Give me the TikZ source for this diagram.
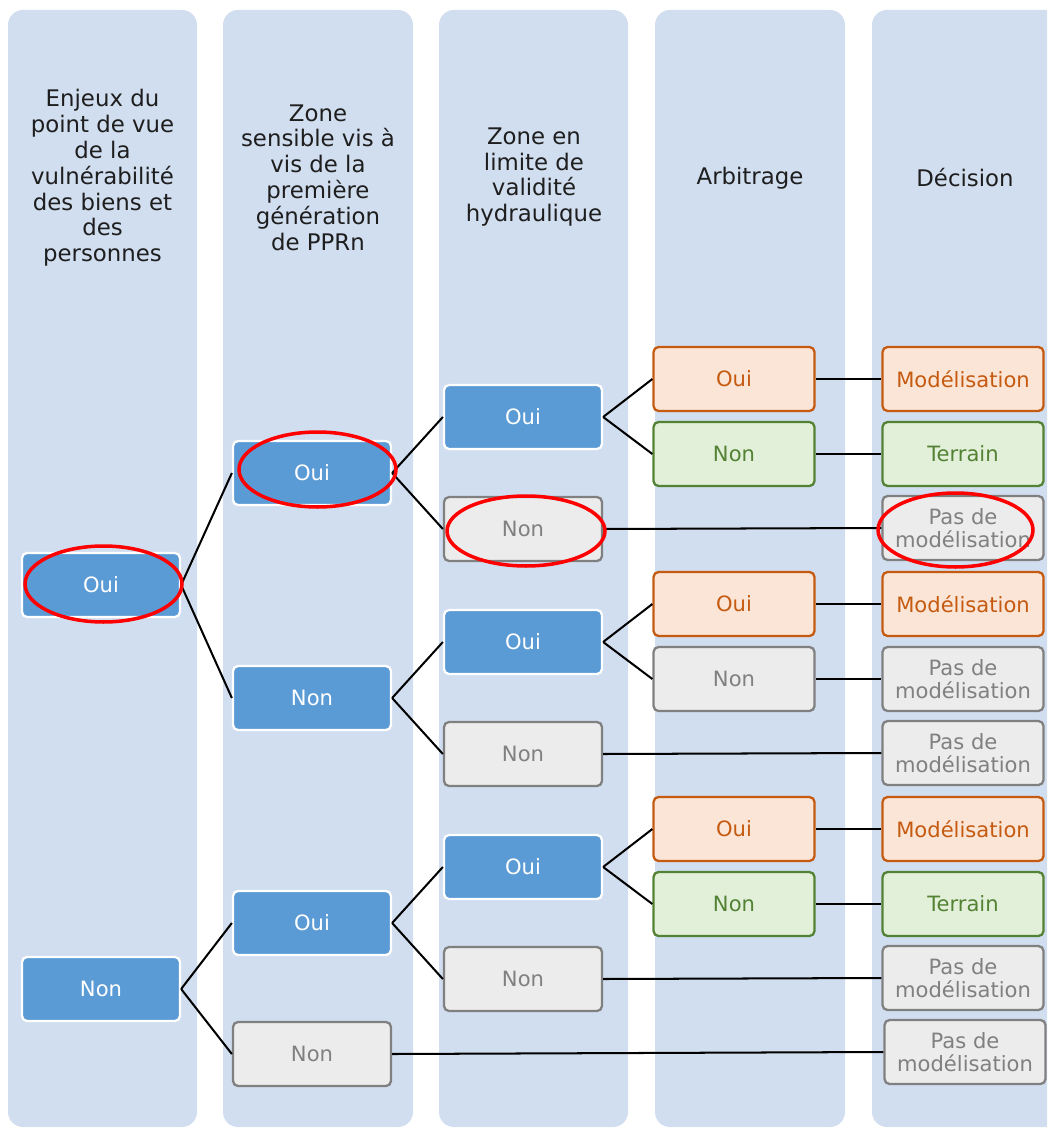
\documentclass[tikz,border=0pt]{standalone}
\usepackage{fontspec}
\setmainfont{DejaVu Sans}
\usetikzlibrary{shapes.geometric}
\definecolor{colbg}{RGB}{209,222,239}
\definecolor{bluefill}{RGB}{91,155,213}
\definecolor{grayfill}{RGB}{236,236,236}
\definecolor{grayline}{RGB}{128,128,128}
\definecolor{graytext}{RGB}{128,128,128}
\definecolor{orfill}{RGB}{251,229,214}
\definecolor{orline}{RGB}{197,90,17}
\definecolor{grfill}{RGB}{226,240,217}
\definecolor{grline}{RGB}{84,130,53}
\definecolor{hdrtext}{RGB}{30,30,30}
\tikzset{
  colbox/.style={fill=colbg, rounded corners=0.3cm},
  hdr/.style={align=center, text=hdrtext, font=\fontsize{13}{14.7}\selectfont, inner sep=0pt},
  box/.style={rectangle, rounded corners=0.1cm, minimum width=3.16cm, minimum height=1.28cm,
    inner sep=0pt, align=center, line width=1.3pt, font=\fontsize{12}{13}\selectfont},
  wbox/.style={box, minimum width=3.22cm},
  bbox/.style={box, fill=bluefill, draw=white, text=white},
  ybox/.style={box, fill=grayfill, draw=grayline, text=graytext},
  obox/.style={wbox, fill=orfill, draw=orline, text=orline},
  gbox/.style={wbox, fill=grfill, draw=grline, text=grline},
  link/.style={draw=black, line width=1.15pt},
  ring/.style={ellipse, draw=red, line width=2pt, inner sep=0pt}
}
\begin{document}
\begin{tikzpicture}[x=0.02cm,y=-0.02cm]
\useasboundingbox (0,0) rectangle (1047,1128);
\clip (0,0) rectangle (1047,1128);
% columns
\fill[colbox] (8,10) rectangle (197,1127);
\fill[colbox] (223,10) rectangle (413,1127);
\fill[colbox] (439,10) rectangle (628,1127);
\fill[colbox] (655,10) rectangle (845,1127);
\fill[colbox] (872,10) rectangle (1075,1127);
% headers
\node[hdr] (h1) at (102.5,178) {Enjeux du\\point de vue\\de la\\vulnérabilité\\des biens et\\des\\personnes};
\node[hdr] (h2) at (318,177.5) {Zone\\sensible vis à\\vis de la\\première\\génération\\de PPRn};
\node[hdr] (h3) at (534,177) {Zone en\\limite de\\validité\\hydraulique};
\node[hdr] (h4) at (750,178) {Arbitrage};
\node[hdr] (h5) at (965,178) {Décision};
% column 1
\node[bbox] (a1) at (101,585) {Oui};
\node[bbox] (a2) at (101,989) {Non};
% column 2
\node[bbox] (b1) at (312,473) {Oui};
\node[bbox] (b2) at (312,698) {Non};
\node[bbox] (b3) at (312,923) {Oui};
\node[ybox] (b4) at (312,1054) {Non};
% column 3
\node[bbox] (c1) at (523,417) {Oui};
\node[ybox] (c2) at (523,529) {Non};
\node[bbox] (c3) at (523,642) {Oui};
\node[ybox] (c4) at (523,754) {Non};
\node[bbox] (c5) at (523,867) {Oui};
\node[ybox] (c6) at (523,979) {Non};
% column 4
\node[obox] (d1) at (734,379) {Oui};
\node[gbox] (d2) at (734,454) {Non};
\node[obox] (d3) at (734,604) {Oui};
\node[ybox, wbox] (d4) at (734,679) {Non};
\node[obox] (d5) at (734,829) {Oui};
\node[gbox] (d6) at (734,904) {Non};
% column 5
\node[obox] (e1) at (963,379) {Modélisation};
\node[gbox] (e2) at (963,454) {Terrain};
\node[ybox, wbox] (e3) at (963,528) {Pas de\\modélisation};
\node[obox] (e4) at (963,604) {Modélisation};
\node[ybox, wbox] (e5) at (963,679) {Pas de\\modélisation};
\node[ybox, wbox] (e6) at (963,753) {Pas de\\modélisation};
\node[obox] (e7) at (963,829) {Modélisation};
\node[gbox] (e8) at (963,904) {Terrain};
\node[ybox, wbox] (e9) at (963,978) {Pas de\\modélisation};
\node[ybox, wbox] (e10) at (965,1052) {Pas de\\modélisation};
% connectors
\path[link] (a1.east) -- (b1.west);
\path[link] (a1.east) -- (b2.west);
\path[link] (a2.east) -- (b3.west);
\path[link] (a2.east) -- (b4.west);
\path[link] (b1.east) -- (c1.west);
\path[link] (b1.east) -- (c2.west);
\path[link] (b2.east) -- (c3.west);
\path[link] (b2.east) -- (c4.west);
\path[link] (b3.east) -- (c5.west);
\path[link] (b3.east) -- (c6.west);
\path[link] (c1.east) -- (d1.west);
\path[link] (c1.east) -- (d2.west);
\path[link] (c3.east) -- (d3.west);
\path[link] (c3.east) -- (d4.west);
\path[link] (c5.east) -- (d5.west);
\path[link] (c5.east) -- (d6.west);
\path[link] (d1.east) -- (e1.west);
\path[link] (d2.east) -- (e2.west);
\path[link] (c2.east) -- (e3.west);
\path[link] (d3.east) -- (e4.west);
\path[link] (d4.east) -- (e5.west);
\path[link] (c4.east) -- (e6.west);
\path[link] (d5.east) -- (e7.west);
\path[link] (d6.east) -- (e8.west);
\path[link] (c6.east) -- (e9.west);
\path[link] (b4.east) -- (e10.west);
% red rings
\node[ring, minimum width=3.14cm, minimum height=1.52cm] (r1) at (103.5,584) {};
\node[ring, minimum width=3.14cm, minimum height=1.50cm] (r2) at (317.5,469.5) {};
\node[ring, minimum width=3.16cm, minimum height=1.40cm] (r3) at (526,531) {};
\node[ring, minimum width=3.10cm, minimum height=1.48cm] (r4) at (955.5,530) {};
\end{tikzpicture}
\end{document}
